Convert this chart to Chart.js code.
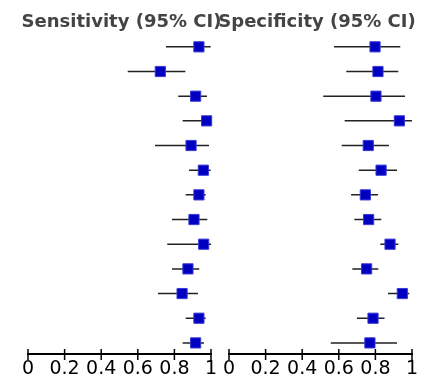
<!DOCTYPE html>
<html>
<head>
<meta charset="utf-8">
<script src="https://cdn.jsdelivr.net/npm/chart.js@4.4.1/dist/chart.umd.min.js"></script>
<style>
  html, body { margin: 0; padding: 0; background: #fff; overflow: hidden; }
  #wrap { position: relative; width: 433px; height: 380px; }
  canvas { position: absolute; top: 0; }
  #c1 { left: 0px; }
  #c2 { left: 201px; }
</style>
</head>
<body>
<div id="wrap">
  <canvas id="c1" width="243" height="380"></canvas>
  <canvas id="c2" width="232" height="380"></canvas>
</div>
<script>
// ---- data ----
const studies = [1, 2, 3, 4, 5, 6, 7, 8, 9, 10, 11, 12, 13];
const tickLabels = ["0", "0.2", "0.4", "0.6", "0.8", "1"];

const sensEst = [0.934, 0.723, 0.916, 0.976, 0.891, 0.958, 0.934, 0.907, 0.960, 0.874, 0.842, 0.934, 0.916];
const sensLo  = [0.754, 0.545, 0.821, 0.845, 0.694, 0.880, 0.862, 0.787, 0.761, 0.787, 0.710, 0.862, 0.845];
const sensHi  = [0.998, 0.860, 0.978, 1.000, 0.989, 0.998, 0.971, 0.980, 1.000, 0.936, 0.929, 0.971, 0.962];

const specEst = [0.798, 0.814, 0.803, 0.931, 0.761, 0.831, 0.745, 0.763, 0.880, 0.752, 0.947, 0.787, 0.770];
const specLo  = [0.574, 0.641, 0.515, 0.632, 0.616, 0.709, 0.667, 0.685, 0.827, 0.674, 0.869, 0.699, 0.556];
const specHi  = [0.936, 0.925, 0.962, 1.000, 0.874, 0.918, 0.814, 0.832, 0.925, 0.816, 0.985, 0.850, 0.918];

const FONT = "'DejaVu Sans', sans-serif";

const tickMarks = {
  id: 'tickMarks',
  afterDraw(chart) {
    const s = chart.scales.x;
    const ctx = chart.ctx;
    const yb = chart.chartArea.bottom;
    ctx.save();
    ctx.strokeStyle = '#000';
    ctx.lineWidth = 1.5;
    s.ticks.forEach(t => {
      const px = s.getPixelForValue(t.value);
      ctx.beginPath();
      ctx.moveTo(px, yb - 5);
      ctx.lineTo(px, yb + 6);
      ctx.stroke();
    });
    ctx.restore();
  }
};

function spacerAxis(position, width) {
  return {
    type: 'linear',
    position: position,
    display: true,
    grid: { display: false, drawTicks: false },
    border: { display: false },
    ticks: { display: false },
    afterFit: (scale) => { scale.width = width; }
  };
}

function makeChart(id, title, est, lo, hi, spaceLeft, spaceRight) {
  const ciData = [];
  studies.forEach((s, i) => {
    ciData.push({ x: lo[i], y: s });
    ciData.push({ x: hi[i], y: s });
    ciData.push({ x: null, y: null });
  });
  const ptData = studies.map((s, i) => ({ x: est[i], y: s }));

  return new Chart(document.getElementById(id), {
    type: 'scatter',
    data: {
      datasets: [
        {
          data: ptData,
          order: 0,
          pointStyle: 'rect',
          pointRadius: 7.2,
          pointHoverRadius: 7.2,
          backgroundColor: '#0000c0',
          borderColor: '#3a3ad8',
          borderWidth: 1,
          clip: false
        },
        {
          data: ciData,
          order: 1,
          showLine: true,
          spanGaps: false,
          borderColor: '#222',
          borderWidth: 1.5,
          pointRadius: 0,
          pointHoverRadius: 0,
          clip: false
        }
      ]
    },
    options: {
      responsive: false,
      animation: false,
      devicePixelRatio: 1,
      layout: { padding: 0 },
      plugins: {
        legend: { display: false },
        tooltip: { enabled: false },
        title: {
          display: true,
          text: title,
          color: '#444',
          font: { family: FONT, size: 18, weight: 'bold' },
          padding: { top: 12, bottom: 0.9 }
        }
      },
      scales: {
        x: {
          type: 'linear',
          min: 0,
          max: 1,
          afterFit: (scale) => { scale.height = 26; },
          grid: { display: false, drawTicks: false },
          border: { display: true, color: '#000', width: 2 },
          ticks: {
            stepSize: 0.2,
            padding: 3.5,
            color: '#000',
            font: { family: FONT, size: 19 },
            maxRotation: 0,
            autoSkip: false,
            callback: (v, i) => tickLabels[i]
          }
        },
        y: Object.assign(spacerAxis('left', spaceLeft), {
          reverse: true,
          min: 0.5,
          max: 13.45
        }),
        yRight: spacerAxis('right', spaceRight)
      }
    },
    plugins: [tickMarks]
  });
}

makeChart('c1', 'Sensitivity (95% CI)', sensEst, sensLo, sensHi, 28, 32);
makeChart('c2', 'Specificity (95% CI)', specEst, specLo, specHi, 28, 21);
</script>
</body>
</html>
